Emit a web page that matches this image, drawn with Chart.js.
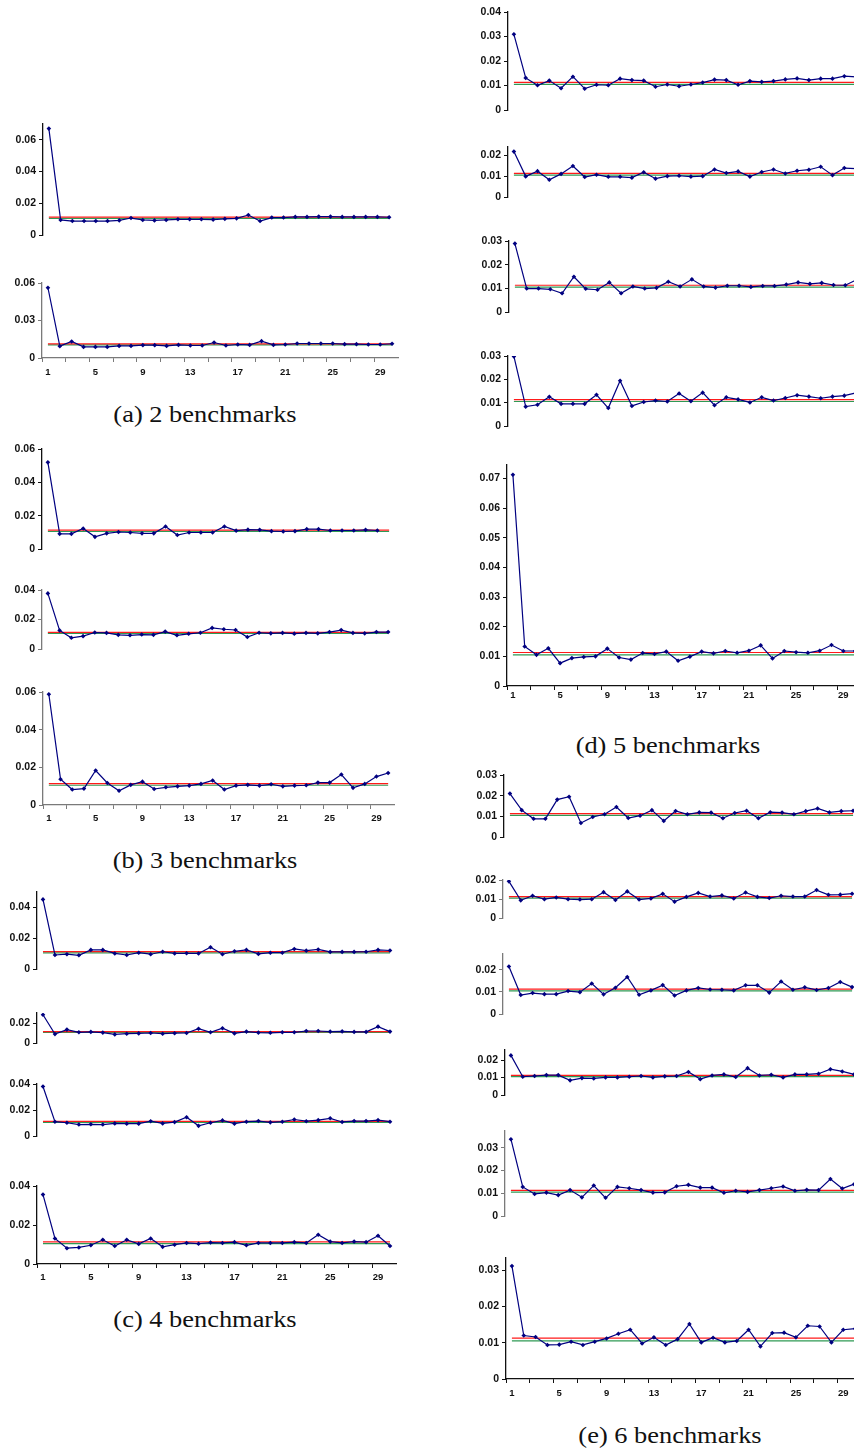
<!DOCTYPE html>
<html>
<head>
<meta charset="utf-8">
<script src="https://cdn.jsdelivr.net/npm/chart.js@4.4.0/dist/chart.umd.min.js"></script>
<style>
  html, body { margin: 0; padding: 0; background: #fff; width: 854px; height: 1450px; overflow: hidden; }
  #page { position: relative; width: 854px; height: 1450px; overflow: hidden; }
  canvas { position: absolute; }
  .caption {
    position: absolute;
    font-family: "Liberation Serif", "Times New Roman", serif;
    font-size: 24px;
    line-height: 24px;
    white-space: nowrap;
    color: #111;
    transform: translateX(-50%) scaleX(1.1);
  }
</style>
</head>
<body>
<div id="page"></div>
<script>
// === DATA ===
const CATS = ["1","2","3","4","5","6","7","8","9","10","11","12","13","14","15","16","17","18","19","20","21","22","23","24","25","26","27","28","29","30"];
const X_TICK_LABELS = ["1","5","9","13","17","21","25","29"];
const RED_LEVEL = 0.0113;
const GREEN_LEVEL = 0.0105;

// (a) 2 benchmarks
const a1 = [0.0671,0.0095,0.0088,0.0088,0.0088,0.0088,0.0092,0.0107,0.0095,0.0092,0.0095,0.0099,0.0099,0.0099,0.0097,0.0102,0.0105,0.0126,0.0088,0.0110,0.0110,0.0114,0.0114,0.0116,0.0116,0.0114,0.0114,0.0114,0.0114,0.0112];
const a2 = [0.0562,0.0095,0.0132,0.0089,0.0089,0.0089,0.0097,0.0097,0.0103,0.0103,0.0097,0.0105,0.0100,0.0100,0.0124,0.0100,0.0108,0.0105,0.0135,0.0105,0.0108,0.0116,0.0116,0.0116,0.0116,0.0111,0.0111,0.0108,0.0108,0.0114];

// (b) 3 benchmarks
const b1 = [0.0520,0.0091,0.0091,0.0123,0.0073,0.0094,0.0102,0.0099,0.0094,0.0094,0.0135,0.0084,0.0099,0.0099,0.0099,0.0135,0.0110,0.0116,0.0115,0.0107,0.0105,0.0107,0.0119,0.0119,0.0111,0.0111,0.0111,0.0115,0.0111];
const b2 = [0.0377,0.0126,0.0076,0.0087,0.0112,0.0109,0.0096,0.0093,0.0098,0.0096,0.0118,0.0093,0.0103,0.0110,0.0143,0.0134,0.0129,0.0081,0.0110,0.0106,0.0109,0.0104,0.0109,0.0106,0.0115,0.0128,0.0109,0.0106,0.0115,0.0115];
const b3 = [0.0588,0.0137,0.0082,0.0087,0.0183,0.0117,0.0076,0.0107,0.0124,0.0085,0.0094,0.0099,0.0103,0.0112,0.0130,0.0082,0.0103,0.0107,0.0103,0.0110,0.0099,0.0103,0.0105,0.0119,0.0119,0.0162,0.0091,0.0112,0.0151,0.0170];

// (c) 4 benchmarks
const c1 = [0.0452,0.0091,0.0096,0.0089,0.0124,0.0124,0.0101,0.0091,0.0106,0.0096,0.0112,0.0101,0.0102,0.0101,0.0141,0.0096,0.0115,0.0124,0.0098,0.0106,0.0106,0.0130,0.0119,0.0127,0.0111,0.0111,0.0111,0.0112,0.0124,0.0120];
const c2 = [0.0282,0.0089,0.0134,0.0107,0.0111,0.0104,0.0086,0.0093,0.0096,0.0100,0.0093,0.0098,0.0100,0.0143,0.0107,0.0148,0.0096,0.0114,0.0104,0.0102,0.0107,0.0107,0.0120,0.0120,0.0114,0.0116,0.0111,0.0111,0.0164,0.0114];
const c3 = [0.0381,0.0110,0.0102,0.0088,0.0090,0.0088,0.0097,0.0095,0.0095,0.0114,0.0097,0.0107,0.0144,0.0078,0.0102,0.0120,0.0095,0.0110,0.0115,0.0105,0.0110,0.0127,0.0114,0.0122,0.0136,0.0108,0.0115,0.0115,0.0122,0.0110];
const c4 = [0.0356,0.0131,0.0081,0.0085,0.0096,0.0124,0.0092,0.0124,0.0103,0.0131,0.0088,0.0099,0.0108,0.0104,0.0110,0.0108,0.0112,0.0096,0.0108,0.0108,0.0108,0.0112,0.0108,0.0150,0.0115,0.0108,0.0115,0.0112,0.0145,0.0092];

// (d) 5 benchmarks
const d1 = [0.0309,0.0131,0.0101,0.0120,0.0089,0.0136,0.0087,0.0103,0.0101,0.0128,0.0122,0.0120,0.0095,0.0104,0.0097,0.0104,0.0112,0.0124,0.0122,0.0103,0.0118,0.0115,0.0118,0.0125,0.0129,0.0122,0.0128,0.0128,0.0138,0.0135];
const d2 = [0.0218,0.0099,0.0124,0.0083,0.0111,0.0149,0.0096,0.0107,0.0097,0.0097,0.0093,0.0119,0.0088,0.0100,0.0102,0.0098,0.0100,0.0132,0.0115,0.0123,0.0098,0.0120,0.0132,0.0113,0.0126,0.0131,0.0145,0.0105,0.0139,0.0136];
const d3 = [0.0289,0.0099,0.0099,0.0096,0.0079,0.0149,0.0098,0.0094,0.0125,0.0079,0.0108,0.0099,0.0102,0.0128,0.0108,0.0138,0.0108,0.0103,0.0111,0.0111,0.0106,0.0110,0.0110,0.0116,0.0125,0.0119,0.0123,0.0114,0.0113,0.0137];
const d4 = [0.0298,0.0083,0.0091,0.0125,0.0095,0.0095,0.0095,0.0134,0.0077,0.0194,0.0086,0.0103,0.0109,0.0105,0.0139,0.0106,0.0143,0.0089,0.0123,0.0114,0.0101,0.0123,0.0109,0.0120,0.0132,0.0126,0.0119,0.0126,0.0130,0.0142];
const d5 = [0.0712,0.0133,0.0105,0.0127,0.0077,0.0094,0.0098,0.0100,0.0126,0.0096,0.0089,0.0111,0.0108,0.0116,0.0085,0.0099,0.0116,0.0110,0.0118,0.0112,0.0119,0.0137,0.0093,0.0118,0.0114,0.0112,0.0119,0.0138,0.0118,0.0118];

// (e) 6 benchmarks
const e1 = [0.0210,0.0130,0.0088,0.0088,0.0181,0.0195,0.0068,0.0097,0.0110,0.0145,0.0092,0.0103,0.0130,0.0078,0.0126,0.0110,0.0119,0.0118,0.0091,0.0116,0.0127,0.0091,0.0120,0.0118,0.0110,0.0125,0.0138,0.0119,0.0125,0.0127];
const e2 = [0.0193,0.0093,0.0117,0.0099,0.0108,0.0099,0.0097,0.0099,0.0136,0.0095,0.0140,0.0097,0.0103,0.0127,0.0086,0.0111,0.0132,0.0113,0.0119,0.0103,0.0134,0.0111,0.0105,0.0117,0.0113,0.0113,0.0147,0.0122,0.0123,0.0128];
const e3 = [0.0215,0.0086,0.0095,0.0090,0.0090,0.0104,0.0099,0.0138,0.0089,0.0119,0.0168,0.0087,0.0107,0.0131,0.0084,0.0107,0.0118,0.0111,0.0110,0.0107,0.0130,0.0130,0.0097,0.0147,0.0110,0.0121,0.0109,0.0118,0.0145,0.0122];
const e4 = [0.0227,0.0105,0.0109,0.0114,0.0114,0.0084,0.0097,0.0095,0.0101,0.0101,0.0105,0.0109,0.0101,0.0107,0.0109,0.0132,0.0091,0.0112,0.0118,0.0103,0.0154,0.0112,0.0116,0.0101,0.0118,0.0118,0.0122,0.0148,0.0135,0.0118];
const e5 = [0.0338,0.0128,0.0097,0.0103,0.0092,0.0114,0.0082,0.0134,0.0080,0.0128,0.0122,0.0114,0.0103,0.0104,0.0131,0.0137,0.0125,0.0125,0.0102,0.0111,0.0106,0.0114,0.0122,0.0130,0.0111,0.0115,0.0114,0.0163,0.0121,0.0140];
const e6 = [0.0312,0.0120,0.0116,0.0094,0.0095,0.0103,0.0094,0.0103,0.0112,0.0125,0.0136,0.0098,0.0115,0.0094,0.0110,0.0152,0.0101,0.0114,0.0101,0.0105,0.0136,0.0090,0.0127,0.0128,0.0115,0.0147,0.0145,0.0101,0.0136,0.0139];

// === LAYOUT (axis x, plot right, plot top/bottom pixel, y max, y step) ===
const BLACK = "#111111";
const GREY = "#7a7a7a";
const panels = [
  { data: a1, axisX: 43, right: 395, top: 124, bottom: 261, max: 0.07, step: 0.02, axis: BLACK },
  { data: a2, axisX: 42, right: 398, top: 283, bottom: 358, max: 0.06, step: 0.03, axis: GREY, showX: true, gap: 14.5 },
  { data: b1, axisX: 42, right: 395, top: 449, bottom: 575, max: 0.06, step: 0.02, axis: BLACK },
  { data: b2, axisX: 42, right: 394, top: 590, bottom: 675, max: 0.04, step: 0.02, axis: GREY },
  { data: b3, axisX: 43, right: 394, top: 692, bottom: 805, max: 0.06, step: 0.02, axis: GREY, showX: true, gap: 14 },
  { data: c1, axisX: 37, right: 396, top: 891.5, bottom: 994, max: 0.05, step: 0.02, axis: BLACK },
  { data: c2, axisX: 37, right: 396, top: 1012.5, bottom: 1068, max: 0.03, step: 0.02, axis: BLACK },
  { data: c3, axisX: 37, right: 396, top: 1084, bottom: 1162, max: 0.04, step: 0.02, axis: BLACK },
  { data: c4, axisX: 37, right: 396, top: 1185.5, bottom: 1263, max: 0.04, step: 0.02, axis: BLACK, showX: true, gap: 14 },
  { data: d1, axisX: 508, right: 862, top: 12, bottom: 136, max: 0.04, step: 0.01, axis: BLACK },
  { data: d2, axisX: 508, right: 862, top: 147, bottom: 223, max: 0.024, step: 0.01, axis: BLACK },
  { data: d3, axisX: 509, right: 863, top: 241, bottom: 338, max: 0.03, step: 0.01, axis: BLACK },
  { data: d4, axisX: 508, right: 862, top: 356, bottom: 452, max: 0.03, step: 0.01, axis: BLACK },
  { data: d5, axisX: 507, right: 861, top: 465, bottom: 686, max: 0.0745, step: 0.01, axis: BLACK, showX: true, gap: 10 },
  { data: e1, axisX: 504, right: 859, top: 775, bottom: 863, max: 0.03, step: 0.01, axis: BLACK },
  { data: e2, axisX: 503, right: 858, top: 880, bottom: 944, max: 0.02, step: 0.01, axis: GREY },
  { data: e3, axisX: 503, right: 858, top: 954, bottom: 1040, max: 0.0272, step: 0.01, axis: GREY },
  { data: e4, axisX: 505, right: 860, top: 1050, bottom: 1121, max: 0.0258, step: 0.01, axis: BLACK },
  { data: e5, axisX: 505, right: 860, top: 1131, bottom: 1242, max: 0.0374, step: 0.01, axis: GREY },
  { data: e6, axisX: 506, right: 861, top: 1258, bottom: 1379, max: 0.0334, step: 0.01, axis: BLACK, showX: true, gap: 15 }
];

const captions = [
  { text: "(a) 2 benchmarks", x: 205, baseline: 422 },
  { text: "(b) 3 benchmarks", x: 205, baseline: 868 },
  { text: "(c) 4 benchmarks", x: 205, baseline: 1327 },
  { text: "(d) 5 benchmarks", x: 668, baseline: 753 },
  { text: "(e) 6 benchmarks", x: 670, baseline: 1443 }
];

const YW = 40;   // y axis box width
const PT = 10;   // top padding
const PB = 10;   // bottom padding when no x axis
const PR = 6;    // right padding
const XH = 26;   // x axis box height
const FONT_FAMILY = "'Liberation Sans', Arial, sans-serif";

const page = document.getElementById("page");

// === BUAT CHART ===
function makeChart(p) {
  const left = p.axisX - YW;
  const top = p.top - PT;
  const w = Math.round(p.right - left + PR);
  const h = Math.round(p.bottom - p.top + PT + (p.showX ? XH : PB));

  const canvas = document.createElement("canvas");
  canvas.width = w;
  canvas.height = h;
  canvas.style.left = left + "px";
  canvas.style.top = top + "px";
  canvas.style.width = w + "px";
  canvas.style.height = h + "px";
  page.appendChild(canvas);

  new Chart(canvas.getContext("2d"), {
    type: "line",
    data: {
      labels: CATS,
      datasets: [
        {
          data: p.data,
          borderColor: "#000080",
          backgroundColor: "#000080",
          borderWidth: 1.2,
          pointStyle: "rectRot",
          pointRadius: 2.3,
          pointBorderWidth: 0,
          pointBackgroundColor: "#000080",
          tension: 0
        },
        {
          data: [{ x: CATS[0], y: RED_LEVEL }, { x: CATS[CATS.length - 1], y: RED_LEVEL }],
          borderColor: "#ff1a1a",
          borderWidth: 1.2,
          pointRadius: 0
        },
        {
          data: [{ x: CATS[0], y: GREEN_LEVEL }, { x: CATS[CATS.length - 1], y: GREEN_LEVEL }],
          borderColor: "#2f9a55",
          borderWidth: 1.2,
          pointRadius: 0
        }
      ]
    },
    options: {
      responsive: false,
      animation: false,
      devicePixelRatio: 1,
      layout: { padding: { left: 0, top: PT, right: PR, bottom: p.showX ? 0 : PB } },
      plugins: { legend: { display: false }, tooltip: { enabled: false } },
      scales: {
        x: {
          type: "category",
          offset: true,
          display: !!p.showX,
          afterFit: (scale) => { scale.height = XH; },
          border: { display: true, color: p.axis, width: 1.2 },
          grid: {
            offset: true,
            drawOnChartArea: false,
            drawTicks: true,
            tickLength: 4,
            color: (ctx) => (ctx.index % 2 === 0 ? p.axis : "rgba(0,0,0,0)")
          },
          ticks: {
            autoSkip: false,
            maxRotation: 0,
            padding: (p.gap || 14) - 10,
            color: "#111",
            font: { family: FONT_FAMILY, size: 9.5, weight: "bold" },
            callback: function (val) {
              const lab = this.getLabelForValue(val);
              return X_TICK_LABELS.includes(lab) ? lab : "";
            }
          }
        },
        y: {
          min: 0,
          max: p.max,
          afterFit: (scale) => { scale.width = YW; },
          border: { display: true, color: p.axis, width: 1.3 },
          grid: { drawOnChartArea: false, drawTicks: true, tickLength: 4, color: p.axis },
          ticks: {
            stepSize: p.step,
            includeBounds: false,
            padding: 3,
            color: "#111",
            font: { family: FONT_FAMILY, size: 10.5, weight: "bold" },
            callback: (v) => (Math.abs(v) < 1e-9 ? "0" : v.toFixed(2))
          }
        }
      }
    }
  });
}

panels.forEach(makeChart);

// === CAPTION ===
captions.forEach((c) => {
  const div = document.createElement("div");
  div.className = "caption";
  div.textContent = c.text;
  div.style.left = c.x + "px";
  div.style.top = (c.baseline - 20) + "px";
  page.appendChild(div);
});
</script>
</body>
</html>
